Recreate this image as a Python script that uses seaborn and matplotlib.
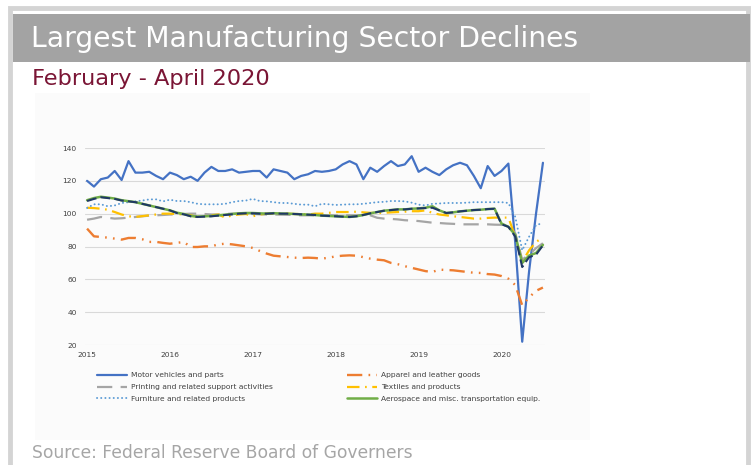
import matplotlib
matplotlib.use("Agg")
import matplotlib.pyplot as plt
from matplotlib.patches import Rectangle
from matplotlib.lines import Line2D
import numpy as np
import pandas as pd
import seaborn as sns

# ---------------- data (monthly, Jan 2015 - Jul 2020) ----------------
year_labels = ["2015", "2016", "2017", "2018", "2019", "2020"]

motor = [120, 116.5, 121, 122, 126, 120.5, 132, 125, 125, 125.5, 123, 121,
         125, 123.5, 121, 122.5, 120, 125, 128.5, 126, 126, 127, 125, 125.5,
         126, 126, 122, 127, 126, 125, 121, 123, 124, 126, 125.5, 126,
         127, 130, 132, 130, 121, 128, 125.5, 129, 132, 129, 130, 135,
         125.5, 128, 125.5, 123.5, 127, 129.5, 131, 129.5, 123, 115.5, 129, 123,
         126, 130.5, 82, 22, 65, 100, 131]

apparel = [90.9, 86.2, 85.8, 85.4, 84.8, 84.2, 85.2, 85.2, 84.4, 82.8, 82.8, 82.2,
           81.7, 82.2, 82.8, 79.7, 79.7, 80.1, 80.1, 81.3, 81.7, 81.3, 80.7, 80.1,
           79.1, 77.3, 75.7, 74.4, 74, 73.6, 73.2, 73, 73.2, 73, 72.6, 73.2,
           74, 74.4, 74.6, 74.4, 73.5, 72.6, 72, 71.6, 70, 69.2, 68, 67,
           66, 65, 64.5, 65.9, 65.7, 65.5, 65, 64.5, 64, 63.9, 63.2, 62.9,
           62, 60.4, 56.5, 44.2, 49, 53, 55]

printing = [96.3, 97, 98, 97.5, 97, 97.2, 97.6, 98, 98.4, 98.8, 99, 99.2,
            99.5, 99.5, 99.8, 100, 100, 99.8, 99.5, 99.5, 99.8, 100, 100, 99.8,
            99.8, 99.6, 99.5, 99.5, 99.4, 99.3, 99.2, 99, 99, 99, 99, 99,
            99, 99, 99, 99, 99.2, 99, 97.5, 97, 96.8, 96.5, 96, 95.8,
            95.5, 95, 94.5, 94.3, 94, 93.8, 93.5, 93.5, 93.5, 93.5, 93.5, 93.3,
            93.2, 92, 88, 72, 75, 79, 82]

textiles = [103.6, 103.4, 103, 102.4, 101, 99.5, 98.4, 98, 98.5, 99, 99.5, 100,
            100, 99.8, 99.5, 99, 98, 98.5, 99, 99.5, 97.6, 99, 99.5, 99.8,
            98.4, 99.5, 100, 100, 100, 100, 99.8, 99.8, 99.5, 100, 100, 100.5,
            101, 101, 101, 101.2, 100.8, 100.5, 100.4, 100.5, 100.8, 101, 101.2, 101.5,
            101.5, 102, 100.5, 99.5, 99, 98.4, 98, 97.5, 97, 97, 97.4, 97.6,
            97.6, 97.6, 86, 70.6, 77.7, 82.8, 85.4]

furniture = [103.5, 105.7, 105.7, 104.5, 105, 106.5, 107, 107.5, 108, 108.7, 108.7, 107.5,
             108.5, 107.7, 107.7, 107, 106, 105.7, 105.7, 105.7, 106, 107, 107.7, 108,
             109, 107.7, 107.5, 107, 106.5, 106.5, 106, 105.5, 105.5, 104.5, 106, 105.7,
             105.3, 105.5, 105.7, 105.7, 106, 106.5, 107, 107.2, 107.7, 107.7, 107.5, 106.7,
             105.5, 105, 106, 106.2, 106.5, 106.5, 106.5, 106.7, 107, 107, 107, 107,
             107, 106.5, 98, 77.7, 86, 93, 94.3]

aerospace = [108.2, 109.5, 110.3, 109.8, 109.2, 108.2, 107.6, 107, 106, 105, 104, 103,
             102, 100.6, 99.8, 98.6, 98.2, 98.4, 98.6, 99, 99.4, 99.8, 100.2, 100.4,
             100.4, 100.2, 100, 100.3, 100.1, 100, 99.8, 99.6, 99.4, 99.2, 98.8, 98.6,
             98.4, 98.2, 98, 98.4, 99.2, 100.2, 101, 101.8, 102.2, 102.6, 102.6, 103,
             103.2, 103.6, 104.5, 102, 100.4, 100.8, 101.4, 101.8, 102.2, 102.4, 102.8, 103,
             94, 92, 87, 70, 74.5, 76, 81]

dark_series = [107.7, 109, 110, 109.5, 109, 108, 107.5, 107, 106, 105, 104, 103,
               102, 100.4, 99.6, 98.4, 98, 98.2, 98.4, 98.8, 99.2, 99.6, 100, 100.2,
               100.2, 100, 100, 100.2, 100, 100, 99.8, 99.6, 99.4, 99.2, 98.8, 98.6,
               98.4, 98.2, 98, 98.4, 99.2, 100.2, 101, 101.8, 102.2, 102.6, 102.6, 103,
               103.2, 103.4, 103.6, 102, 100.4, 100.8, 101.4, 101.8, 102.2, 102.4, 102.8, 103,
               93.5, 92, 86, 67.5, 73.5, 75, 80.7]

series_names = ["Motor vehicles and parts", "Apparel and leather goods",
                "Printing and related support activities", "Textiles and products",
                "Furniture and related products", "Aerospace and misc. transportation equip."]

# ---------------- style ----------------
sns.set_theme(style="white")
plt.rcParams["font.family"] = ["DejaVu Sans"]
plt.rcParams["lines.scale_dashes"] = False

W, H = 755, 465
fig = plt.figure(figsize=(W / 100, H / 100), dpi=100)
fig.patch.set_facecolor("white")


def fx(x):
    return x / W


def fy(y):
    return 1 - y / H


# outer frame + title bar
fig.add_artist(Rectangle((fx(10), fy(H + 5)), fx(748) - fx(10), fy(8) - fy(H + 5),
                         transform=fig.transFigure, facecolor="none",
                         edgecolor="#d4d4d4", lw=3.5, zorder=0))
fig.add_artist(Rectangle((fx(13), fy(62)), fx(750) - fx(13), fy(14) - fy(62),
                         transform=fig.transFigure, facecolor="#a3a3a3",
                         edgecolor="none", zorder=1))
# faint chart picture area
fig.add_artist(Rectangle((fx(35), fy(440)), fx(590) - fx(35), fy(93) - fy(440),
                         transform=fig.transFigure, facecolor="#fbfbfb",
                         edgecolor="none", zorder=0))

fig.text(fx(31), fy(39), "Largest Manufacturing Sector Declines", color="white",
         fontsize=20.3, va="center", ha="left")
fig.text(fx(32), fy(79), "February - April 2020", color="#7a1535",
         fontsize=16.2, va="center", ha="left")
fig.text(fx(32), fy(453), "Source: Federal Reserve Board of Governers", color="#a6a6a6",
         fontsize=12.3, va="center", ha="left")

# ---------------- chart ----------------
ax = fig.add_axes([fx(85), fy(345), fx(545) - fx(85), fy(148) - fy(345)])
ax.set_facecolor("none")

months = np.arange(len(motor))
df = pd.DataFrame({"m": months, "motor": motor, "apparel": apparel, "printing": printing,
                   "textiles": textiles, "furniture": furniture, "aerospace": aerospace,
                   "dark": dark_series})

styles = [
    ("motor", series_names[0], "#4472C4", 1.6, "-"),
    ("apparel", series_names[1], "#ED7D31", 1.7, (0, (11, 4.5, 1.2, 4.5, 1.2, 4.5))),
    ("printing", series_names[2], "#A5A5A5", 1.6, (0, (11, 6))),
    ("textiles", series_names[3], "#FFC000", 1.6, (0, (9, 4, 1.2, 4))),
    ("furniture", series_names[4], "#5B9BD5", 1.4, (0, (0.1, 2.9))),
    ("aerospace", series_names[5], "#70AD47", 1.8, "-"),
    ("dark", "_nolegend_", "#1F3864", 1.5, (0, (7, 3))),
]
handles = {}
for col, name, color, lw, ls in styles:
    cap = "round" if col == "furniture" else "butt"
    sns.lineplot(data=df, x="m", y=col, ax=ax, color=color, lw=lw, linestyle=ls,
                 label=name, legend=False, dash_capstyle=cap)
    handles[name] = Line2D([], [], color=color, lw=lw, linestyle=ls, dash_capstyle=cap)

ax.set_xlim(-0.3, 66.3)
ax.set_ylim(20, 140)
ax.set_yticks(np.arange(20, 141, 20))
ax.set_xticks(np.arange(0, 61, 12))
ax.set_xticklabels(year_labels)
ax.set_xlabel("")
ax.set_ylabel("")
ax.grid(axis="y", color="#d9d9d9", lw=0.8)
ax.set_axisbelow(True)
for s in ax.spines.values():
    s.set_visible(False)
ax.tick_params(axis="both", length=0, labelsize=5.4, colors="#404040")
ax.tick_params(axis="y", pad=6)
ax.tick_params(axis="x", pad=5)

col1 = [series_names[0], series_names[2], series_names[4]]
col2 = [series_names[1], series_names[3], series_names[5]]
legs = []
for names, x0 in ((col1, 97), (col2, 347)):
    leg = ax.legend([handles[n] for n in names], names,
                    loc="upper left", bbox_to_anchor=(fx(x0), fy(372)),
                    bbox_transform=fig.transFigure, frameon=False, fontsize=5.4,
                    handlelength=4.0, handletextpad=0.5, labelspacing=0.75,
                    borderpad=0, borderaxespad=0)
    for t in leg.get_texts():
        t.set_color("#404040")
    legs.append(leg)
ax.add_artist(legs[0])

fig.savefig("out.png", dpi=100)
